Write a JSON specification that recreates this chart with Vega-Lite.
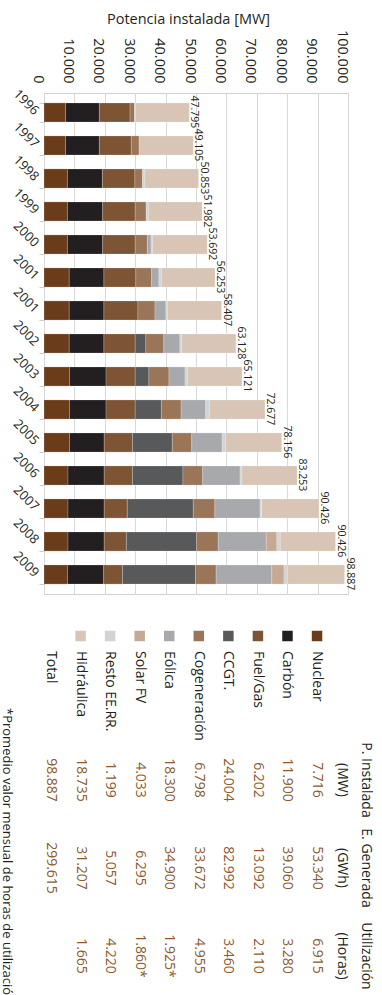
{
  "$schema": "https://vega.github.io/schema/vega-lite/v6.json",
  "padding": {"left": 0, "top": 10, "right": 12, "bottom": 0},
  "spacing": 21,
  "config": {
    "font": "Open Sans",
    "view": {"stroke": null},
    "axis": {"labelOverlap": false},
    "locale": {"number": {"decimal": ",", "thousands": ".", "grouping": [3], "currency": ["", " €"]}}
  },
  "datasets": {
    "tecnologias": [
      {"tec": "Nuclear", "orden": 1}, {"tec": "Carbón", "orden": 2}, {"tec": "Fuel/Gas", "orden": 3},
      {"tec": "CCGT.", "orden": 4}, {"tec": "Cogeneración", "orden": 5}, {"tec": "Eólica", "orden": 6},
      {"tec": "Solar FV", "orden": 7}, {"tec": "Resto EE.RR.", "orden": 8}, {"tec": "Hidráulica", "orden": 9}
    ],
    "barras": [
      {"fila": 1, "tec": "Nuclear", "mw": 7100}, {"fila": 1, "tec": "Carbón", "mw": 11100}, {"fila": 1, "tec": "Fuel/Gas", "mw": 10100}, {"fila": 1, "tec": "Cogeneración", "mw": 1500}, {"fila": 1, "tec": "Resto EE.RR.", "mw": 300}, {"fila": 1, "tec": "Hidráulica", "mw": 17695},
      {"fila": 2, "tec": "Nuclear", "mw": 7100}, {"fila": 2, "tec": "Carbón", "mw": 11100}, {"fila": 2, "tec": "Fuel/Gas", "mw": 10500}, {"fila": 2, "tec": "Cogeneración", "mw": 2600}, {"fila": 2, "tec": "Hidráulica", "mw": 17805},
      {"fila": 3, "tec": "Nuclear", "mw": 7700}, {"fila": 3, "tec": "Carbón", "mw": 11500}, {"fila": 3, "tec": "Fuel/Gas", "mw": 10700}, {"fila": 3, "tec": "Cogeneración", "mw": 2500}, {"fila": 3, "tec": "Resto EE.RR.", "mw": 800}, {"fila": 3, "tec": "Hidráulica", "mw": 17653},
      {"fila": 4, "tec": "Nuclear", "mw": 7700}, {"fila": 4, "tec": "Carbón", "mw": 11600}, {"fila": 4, "tec": "Fuel/Gas", "mw": 10700}, {"fila": 4, "tec": "Cogeneración", "mw": 3600}, {"fila": 4, "tec": "Resto EE.RR.", "mw": 900}, {"fila": 4, "tec": "Hidráulica", "mw": 17482},
      {"fila": 5, "tec": "Nuclear", "mw": 7700}, {"fila": 5, "tec": "Carbón", "mw": 11600}, {"fila": 5, "tec": "Fuel/Gas", "mw": 10700}, {"fila": 5, "tec": "Cogeneración", "mw": 4000}, {"fila": 5, "tec": "Eólica", "mw": 1200}, {"fila": 5, "tec": "Resto EE.RR.", "mw": 600}, {"fila": 5, "tec": "Hidráulica", "mw": 17892},
      {"fila": 6, "tec": "Nuclear", "mw": 8300}, {"fila": 6, "tec": "Carbón", "mw": 11400}, {"fila": 6, "tec": "Fuel/Gas", "mw": 10500}, {"fila": 6, "tec": "Cogeneración", "mw": 5200}, {"fila": 6, "tec": "Eólica", "mw": 2400}, {"fila": 6, "tec": "Resto EE.RR.", "mw": 800}, {"fila": 6, "tec": "Hidráulica", "mw": 17653},
      {"fila": 7, "tec": "Nuclear", "mw": 8300}, {"fila": 7, "tec": "Carbón", "mw": 11400}, {"fila": 7, "tec": "Fuel/Gas", "mw": 11200}, {"fila": 7, "tec": "Cogeneración", "mw": 5600}, {"fila": 7, "tec": "Eólica", "mw": 3600}, {"fila": 7, "tec": "Resto EE.RR.", "mw": 500}, {"fila": 7, "tec": "Hidráulica", "mw": 17807},
      {"fila": 8, "tec": "Nuclear", "mw": 8300}, {"fila": 8, "tec": "Carbón", "mw": 11400}, {"fila": 8, "tec": "Fuel/Gas", "mw": 10300}, {"fila": 8, "tec": "CCGT.", "mw": 3500}, {"fila": 8, "tec": "Cogeneración", "mw": 5900}, {"fila": 8, "tec": "Eólica", "mw": 5300}, {"fila": 8, "tec": "Resto EE.RR.", "mw": 500}, {"fila": 8, "tec": "Hidráulica", "mw": 17928},
      {"fila": 9, "tec": "Nuclear", "mw": 8400}, {"fila": 9, "tec": "Carbón", "mw": 12000}, {"fila": 9, "tec": "Fuel/Gas", "mw": 9600}, {"fila": 9, "tec": "CCGT.", "mw": 4500}, {"fila": 9, "tec": "Cogeneración", "mw": 6600}, {"fila": 9, "tec": "Eólica", "mw": 5300}, {"fila": 9, "tec": "Resto EE.RR.", "mw": 800}, {"fila": 9, "tec": "Hidráulica", "mw": 17921},
      {"fila": 10, "tec": "Nuclear", "mw": 8400}, {"fila": 10, "tec": "Carbón", "mw": 12000}, {"fila": 10, "tec": "Fuel/Gas", "mw": 9600}, {"fila": 10, "tec": "CCGT.", "mw": 8600}, {"fila": 10, "tec": "Cogeneración", "mw": 6500}, {"fila": 10, "tec": "Eólica", "mw": 8100}, {"fila": 10, "tec": "Resto EE.RR.", "mw": 1200}, {"fila": 10, "tec": "Hidráulica", "mw": 18277},
      {"fila": 11, "tec": "Nuclear", "mw": 8400}, {"fila": 11, "tec": "Carbón", "mw": 11400}, {"fila": 11, "tec": "Fuel/Gas", "mw": 9300}, {"fila": 11, "tec": "CCGT.", "mw": 13100}, {"fila": 11, "tec": "Cogeneración", "mw": 6400}, {"fila": 11, "tec": "Eólica", "mw": 10000}, {"fila": 11, "tec": "Resto EE.RR.", "mw": 1100}, {"fila": 11, "tec": "Hidráulica", "mw": 18456},
      {"fila": 12, "tec": "Nuclear", "mw": 7900}, {"fila": 12, "tec": "Carbón", "mw": 11900}, {"fila": 12, "tec": "Fuel/Gas", "mw": 9300}, {"fila": 12, "tec": "CCGT.", "mw": 16600}, {"fila": 12, "tec": "Cogeneración", "mw": 6500}, {"fila": 12, "tec": "Eólica", "mw": 12300}, {"fila": 12, "tec": "Resto EE.RR.", "mw": 600}, {"fila": 12, "tec": "Hidráulica", "mw": 18153},
      {"fila": 13, "tec": "Nuclear", "mw": 7900}, {"fila": 13, "tec": "Carbón", "mw": 11900}, {"fila": 13, "tec": "Fuel/Gas", "mw": 7600}, {"fila": 13, "tec": "CCGT.", "mw": 21700}, {"fila": 13, "tec": "Cogeneración", "mw": 7100}, {"fila": 13, "tec": "Eólica", "mw": 14900}, {"fila": 13, "tec": "Resto EE.RR.", "mw": 500}, {"fila": 13, "tec": "Hidráulica", "mw": 18826},
      {"fila": 14, "tec": "Nuclear", "mw": 7900}, {"fila": 14, "tec": "Carbón", "mw": 11900}, {"fila": 14, "tec": "Fuel/Gas", "mw": 7300}, {"fila": 14, "tec": "CCGT.", "mw": 23100}, {"fila": 14, "tec": "Cogeneración", "mw": 7100}, {"fila": 14, "tec": "Eólica", "mw": 15800}, {"fila": 14, "tec": "Solar FV", "mw": 3500}, {"fila": 14, "tec": "Resto EE.RR.", "mw": 1100}, {"fila": 14, "tec": "Hidráulica", "mw": 18200},
      {"fila": 15, "tec": "Nuclear", "mw": 7716}, {"fila": 15, "tec": "Carbón", "mw": 11900}, {"fila": 15, "tec": "Fuel/Gas", "mw": 6202}, {"fila": 15, "tec": "CCGT.", "mw": 24004}, {"fila": 15, "tec": "Cogeneración", "mw": 6798}, {"fila": 15, "tec": "Eólica", "mw": 18300}, {"fila": 15, "tec": "Solar FV", "mw": 4033}, {"fila": 15, "tec": "Resto EE.RR.", "mw": 1199}, {"fila": 15, "tec": "Hidráulica", "mw": 18735}
    ],
    "totales": [
      {"fila": 1, "fin": 47795, "etiqueta": "47.795"},
      {"fila": 2, "fin": 49105, "etiqueta": "49.105"},
      {"fila": 3, "fin": 50853, "etiqueta": "50.853"},
      {"fila": 4, "fin": 51982, "etiqueta": "51.982"},
      {"fila": 5, "fin": 53692, "etiqueta": "53.692"},
      {"fila": 6, "fin": 56253, "etiqueta": "56.253"},
      {"fila": 7, "fin": 58407, "etiqueta": "58.407"},
      {"fila": 8, "fin": 63128, "etiqueta": "63.128"},
      {"fila": 9, "fin": 65121, "etiqueta": "65.121"},
      {"fila": 10, "fin": 72677, "etiqueta": "72.677"},
      {"fila": 11, "fin": 78156, "etiqueta": "78.156"},
      {"fila": 12, "fin": 83253, "etiqueta": "83.253"},
      {"fila": 13, "fin": 90426, "etiqueta": "90.426"},
      {"fila": 14, "fin": 95900, "etiqueta": "90.426"},
      {"fila": 15, "fin": 98887, "etiqueta": "98.887"}
    ],
    "celdas": [
      {"item": "Nuclear", "col": "Tecnología", "tipo": "nombre", "texto": "Nuclear"},
      {"item": "Carbón", "col": "Tecnología", "tipo": "nombre", "texto": "Carbón"},
      {"item": "Fuel/Gas", "col": "Tecnología", "tipo": "nombre", "texto": "Fuel/Gas"},
      {"item": "CCGT.", "col": "Tecnología", "tipo": "nombre", "texto": "CCGT."},
      {"item": "Cogeneración", "col": "Tecnología", "tipo": "nombre", "texto": "Cogeneración"},
      {"item": "Eólica", "col": "Tecnología", "tipo": "nombre", "texto": "Eólica"},
      {"item": "Solar FV", "col": "Tecnología", "tipo": "nombre", "texto": "Solar FV"},
      {"item": "Resto EE.RR.", "col": "Tecnología", "tipo": "nombre", "texto": "Resto EE.RR."},
      {"item": "Hidráulica", "col": "Tecnología", "tipo": "nombre", "texto": "Hidráulica"},
      {"item": "Total", "col": "Tecnología", "tipo": "nombre", "texto": "Total"},
      {"item": "Total", "col": "Tecnología", "tipo": "nota", "texto": "*Promedio valor mensual de horas de utilización"},
      {"item": "Encabezado", "col": "P. Instalada (MW)", "tipo": "cabecera", "texto": "P. Instalada\n(MW)"},
      {"item": "Encabezado", "col": "E. Generada (GWh)", "tipo": "cabecera", "texto": "E. Generada\n(GWh)"},
      {"item": "Encabezado", "col": "Utilización (Horas)", "tipo": "cabecera", "texto": "Utilización\n(Horas)"},
      {"item": "Nuclear", "col": "P. Instalada (MW)", "tipo": "valor", "texto": "7.716"},
      {"item": "Nuclear", "col": "E. Generada (GWh)", "tipo": "valor", "texto": "53.340"},
      {"item": "Nuclear", "col": "Utilización (Horas)", "tipo": "valor", "texto": "6.915"},
      {"item": "Carbón", "col": "P. Instalada (MW)", "tipo": "valor", "texto": "11.900"},
      {"item": "Carbón", "col": "E. Generada (GWh)", "tipo": "valor", "texto": "39.060"},
      {"item": "Carbón", "col": "Utilización (Horas)", "tipo": "valor", "texto": "3.280"},
      {"item": "Fuel/Gas", "col": "P. Instalada (MW)", "tipo": "valor", "texto": "6.202"},
      {"item": "Fuel/Gas", "col": "E. Generada (GWh)", "tipo": "valor", "texto": "13.092"},
      {"item": "Fuel/Gas", "col": "Utilización (Horas)", "tipo": "valor", "texto": "2.110"},
      {"item": "CCGT.", "col": "P. Instalada (MW)", "tipo": "valor", "texto": "24.004"},
      {"item": "CCGT.", "col": "E. Generada (GWh)", "tipo": "valor", "texto": "82.992"},
      {"item": "CCGT.", "col": "Utilización (Horas)", "tipo": "valor", "texto": "3.460"},
      {"item": "Cogeneración", "col": "P. Instalada (MW)", "tipo": "valor", "texto": "6.798"},
      {"item": "Cogeneración", "col": "E. Generada (GWh)", "tipo": "valor", "texto": "33.672"},
      {"item": "Cogeneración", "col": "Utilización (Horas)", "tipo": "valor", "texto": "4.955"},
      {"item": "Eólica", "col": "P. Instalada (MW)", "tipo": "valor", "texto": "18.300"},
      {"item": "Eólica", "col": "E. Generada (GWh)", "tipo": "valor", "texto": "34.900"},
      {"item": "Eólica", "col": "Utilización (Horas)", "tipo": "valor", "texto": "1.925*"},
      {"item": "Solar FV", "col": "P. Instalada (MW)", "tipo": "valor", "texto": "4.033"},
      {"item": "Solar FV", "col": "E. Generada (GWh)", "tipo": "valor", "texto": "6.295"},
      {"item": "Solar FV", "col": "Utilización (Horas)", "tipo": "valor", "texto": "1.860*"},
      {"item": "Resto EE.RR.", "col": "P. Instalada (MW)", "tipo": "valor", "texto": "1.199"},
      {"item": "Resto EE.RR.", "col": "E. Generada (GWh)", "tipo": "valor", "texto": "5.057"},
      {"item": "Resto EE.RR.", "col": "Utilización (Horas)", "tipo": "valor", "texto": "4.220"},
      {"item": "Hidráulica", "col": "P. Instalada (MW)", "tipo": "valor", "texto": "18.735"},
      {"item": "Hidráulica", "col": "E. Generada (GWh)", "tipo": "valor", "texto": "31.207"},
      {"item": "Hidráulica", "col": "Utilización (Horas)", "tipo": "valor", "texto": "1.665"},
      {"item": "Total", "col": "P. Instalada (MW)", "tipo": "valor", "texto": "98.887"},
      {"item": "Total", "col": "E. Generada (GWh)", "tipo": "valor", "texto": "299.615"}
    ]
  },
  "vconcat": [
    {
      "width": 304,
      "height": 501,
      "view": {"stroke": "#cfcfcf"},
      "layer": [
        {
          "data": {"name": "barras"},
          "transform": [{"lookup": "tec", "from": {"data": {"name": "tecnologias"}, "key": "tec", "fields": ["orden"]}}],
          "mark": {"type": "bar", "stroke": "#ffffff", "strokeWidth": 0.4, "strokeOpacity": 0.5},
          "encoding": {
            "y": {
              "field": "fila", "type": "ordinal", "sort": "ascending",
              "scale": {"paddingInner": 0.42, "paddingOuter": 0.3},
              "axis": {
                "title": null,
                "labelExpr": "['1996','1997','1998','1999','2000','2001','2001','2002','2003','2004','2005','2006','2007','2008','2009'][datum.value - 1]",
                "labelAngle": 45, "labelAlign": "right", "labelBaseline": "middle",
                "labelFontSize": 13, "labelColor": "#231f20", "labelPadding": 3,
                "tickBand": "extent", "tickSize": 5, "tickColor": "#cccccc",
                "domain": false, "grid": false
              }
            },
            "x": {
              "field": "mw", "type": "quantitative", "stack": "zero",
              "scale": {"domain": [0, 100000], "nice": false},
              "axis": {
                "orient": "top",
                "tickCount": 10,
                "format": ",d", "labelAngle": 90, "labelAlign": "right", "labelBaseline": "top",
                "labelFontSize": 14.5, "labelColor": "#231f20", "labelFlush": false,
                "labelOverlap": false, "labelPadding": 10, "ticks": false, "domain": false,
                "grid": true, "gridColor": "#d9d9d9",
                "title": "Potencia instalada [MW]", "titleFontSize": 14.5, "titleFontWeight": "normal",
                "titleColor": "#231f20", "titlePadding": 3, "titleX": 144, "titleAlign": "center"
              }
            },
            "order": {"field": "orden", "type": "quantitative", "sort": "ascending"},
            "color": {
              "field": "tec", "type": "nominal",
              "scale": {
                "domain": ["Nuclear", "Carbón", "Fuel/Gas", "CCGT.", "Cogeneración", "Eólica", "Solar FV", "Resto EE.RR.", "Hidráulica"],
                "range": ["#6b3c19", "#231f20", "#7e5534", "#58595b", "#9b7557", "#a7a9ac", "#c6a993", "#d1d3d4", "#d8c5b6"]
              },
              "legend": null
            }
          }
        },
        {
          "data": {"name": "totales"},
          "mark": {"type": "text", "angle": 90, "align": "left", "baseline": "alphabetic", "dx": -7.5, "dy": -2, "fontSize": 10.5, "color": "#231f20"},
          "encoding": {
            "y": {"field": "fila", "type": "ordinal", "bandPosition": 0},
            "x": {
              "field": "fin", "type": "quantitative",
              "axis": {
                "orient": "top",
                "tickCount": 10,
                "format": ",d", "labelAngle": 90, "labelAlign": "right", "labelBaseline": "top",
                "labelFontSize": 14.5, "labelColor": "#231f20", "labelFlush": false,
                "labelOverlap": false, "labelPadding": 10, "ticks": false, "domain": false,
                "grid": true, "gridColor": "#d9d9d9",
                "title": "Potencia instalada [MW]", "titleFontSize": 14.5, "titleFontWeight": "normal",
                "titleColor": "#231f20", "titlePadding": 3, "titleX": 144, "titleAlign": "center"
              }
            },
            "text": {"field": "etiqueta"}
          }
        }
      ]
    },
    {
      "width": 304,
      "height": 380,
      "data": {"name": "celdas"},
      "encoding": {
        "x": {
          "field": "item", "type": "nominal",
          "scale": {"type": "point", "domain": ["Total", "Hidráulica", "Resto EE.RR.", "Solar FV", "Eólica", "Cogeneración", "CCGT.", "Fuel/Gas", "Carbón", "Nuclear", "Encabezado"], "range": [7, 302.6], "padding": 0},
          "axis": null
        },
        "y": {
          "field": "col", "type": "nominal",
          "scale": {"type": "point", "domain": ["Tecnología", "P. Instalada (MW)", "E. Generada (GWh)", "Utilización (Horas)"], "range": [76, 340], "padding": 0},
          "axis": null
        }
      },
      "layer": [
        {
          "transform": [{"filter": "datum.tipo === 'nombre' && datum.item !== 'Total'"}],
          "mark": {"type": "point", "shape": "square", "size": 110, "filled": true, "opacity": 1, "yOffset": -56},
          "encoding": {
            "color": {
              "field": "item", "type": "nominal",
              "scale": {
                "domain": ["Nuclear", "Carbón", "Fuel/Gas", "CCGT.", "Cogeneración", "Eólica", "Solar FV", "Resto EE.RR.", "Hidráulica"],
                "range": ["#6b3c19", "#231f20", "#7e5534", "#58595b", "#9b7557", "#a7a9ac", "#c6a993", "#d1d3d4", "#d8c5b6"]
              },
              "legend": null
            }
          }
        },
        {
          "transform": [{"filter": "datum.tipo === 'nombre'"}],
          "mark": {"type": "text", "angle": 90, "align": "left", "baseline": "middle", "dx": -41, "fontSize": 14, "color": "#231f20"},
          "encoding": {"text": {"field": "texto"}}
        },
        {
          "transform": [{"filter": "datum.tipo === 'valor'"}],
          "mark": {"type": "text", "angle": 90, "align": "center", "baseline": "middle", "fontSize": 14, "color": "#8c5a2e"},
          "encoding": {"text": {"field": "texto"}}
        },
        {
          "transform": [{"filter": "datum.tipo === 'cabecera'"}],
          "mark": {"type": "text", "angle": 90, "align": "center", "baseline": "middle", "lineBreak": "\n", "lineHeight": 24, "dy": -19, "fontSize": 14, "color": "#231f20"},
          "encoding": {"text": {"field": "texto"}}
        },
        {
          "transform": [{"filter": "datum.tipo === 'nota'"}],
          "mark": {"type": "text", "angle": 90, "align": "left", "baseline": "middle", "dx": 16, "dy": 44, "fontSize": 13, "color": "#231f20"},
          "encoding": {"text": {"field": "texto"}}
        }
      ]
    }
  ]
}
